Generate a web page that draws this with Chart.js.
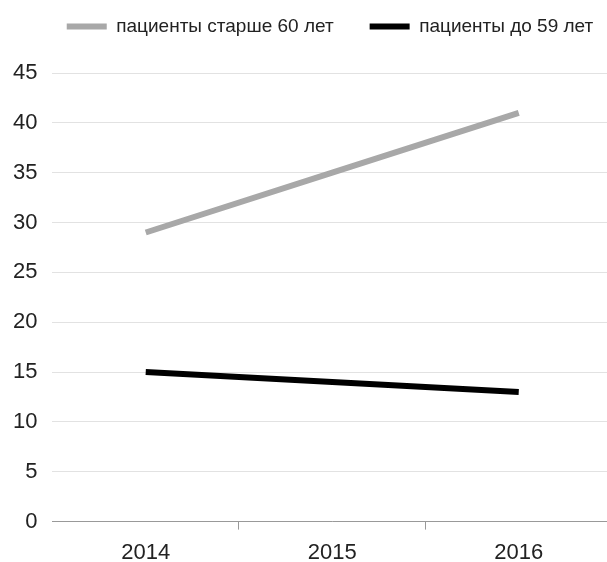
<!DOCTYPE html>
<html>
<head>
<meta charset="utf-8">
<script src="https://cdn.jsdelivr.net/npm/chart.js@4"></script>
<style>
  html, body { margin: 0; padding: 0; background: #fff; overflow: hidden; }
  #wrap { width: 612px; height: 562px; }
</style>
</head>
<body>
<div id="wrap"><canvas id="chart"></canvas></div>
<script>
const years    = ['2014', '2015', '2016'];
const older60  = [29, 35, 41];
const under59  = [15, 14, 13];
const yTicks   = [0, 5, 10, 15, 20, 25, 30, 35, 40, 45];

const fam = 'Liberation Sans, Arial, sans-serif';

// nudge the legend: taller box (pushes plot down), and moved right
const legendTweak = {
  id: 'legendTweak',
  beforeLayout(chart) {
    const lg = chart.legend;
    if (!lg || lg._tweaked) return;
    const fit = lg.fit;
    lg.fit = function () { fit.call(this); this.height += 27; };
    lg._tweaked = true;
  },
  afterLayout(chart) {
    const lg = chart.legend;
    if (!lg) return;
    lg.left += 25; lg.right += 25;
  }
};

new Chart(document.getElementById('chart'), {
  type: 'line',
  data: {
    labels: years,
    datasets: [
      { label: 'пациенты старше 60 лет', data: older60, borderColor: '#a8a8a8', backgroundColor: '#a8a8a8', borderWidth: 6, pointRadius: 0, tension: 0 },
      { label: 'пациенты до 59 лет',     data: under59, borderColor: '#000000', backgroundColor: '#000000', borderWidth: 6, pointRadius: 0, tension: 0 }
    ]
  },
  plugins: [legendTweak],
  options: {
    responsive: true,
    maintainAspectRatio: false,
    animation: false,
    layout: { padding: { left: -2, right: 0, top: -19, bottom: -14 } },
    plugins: {
      legend: {
        position: 'top',
        labels: {
          color: '#222', font: { family: fam, size: 19 }, boxWidth: 40, boxHeight: 6, padding: 36,
          generateLabels: chart => Chart.defaults.plugins.legend.labels.generateLabels(chart).map(l => ({ ...l, lineWidth: 0 }))
        }
      },
      tooltip: { enabled: false }
    },
    scales: {
      x: {
        offset: true,
        grid: {
          offset: true, drawOnChartArea: false, drawTicks: true, tickLength: 8,
          tickColor: ctx => ctx.index === 0 ? 'rgba(0,0,0,0)' : '#999'
        },
        border: { color: '#999' },
        ticks: { color: '#222', font: { family: fam, size: 22 }, padding: 10 }
      },
      y: {
        min: 0, max: 45,
        afterBuildTicks: axis => { axis.ticks = yTicks.map(v => ({ value: v })); },
        grid: { color: '#e2e2e2', drawTicks: false },
        border: { display: false },
        ticks: { color: '#222', font: { family: fam, size: 22 }, padding: 15 }
      }
    }
  }
});
</script>
</body>
</html>
